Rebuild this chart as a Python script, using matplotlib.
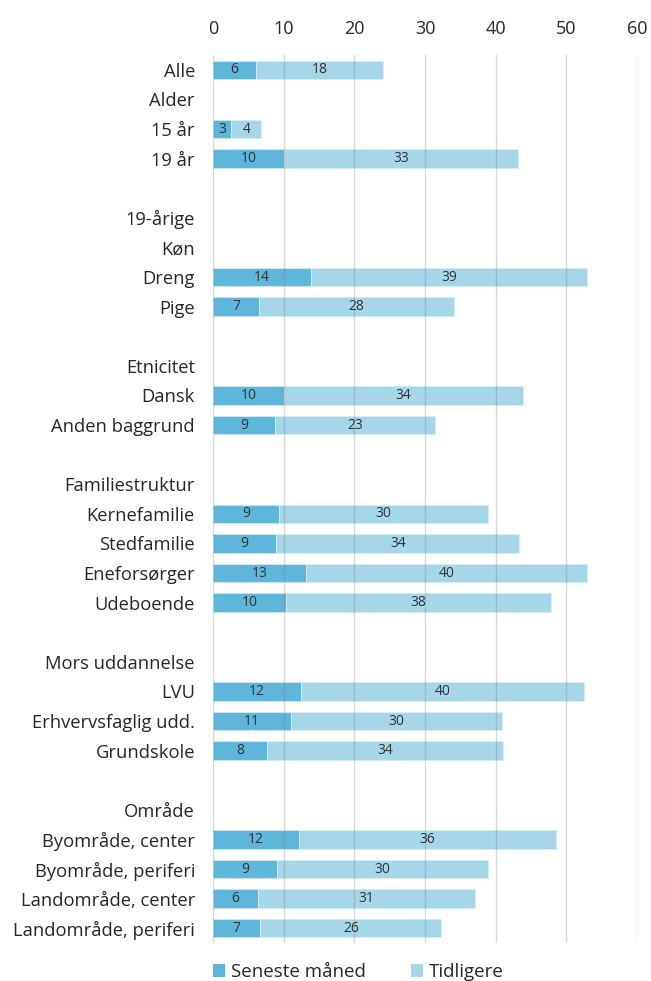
import matplotlib
matplotlib.use("Agg")
import matplotlib.pyplot as plt
from matplotlib.patches import Patch

plt.rcParams['font.family'] = ['Open Sans', 'DejaVu Sans']

categories = ["Alle", "Alder", "15 år", "19 år", "", "19-årige", "Køn", "Dreng", "Pige", "",
              "Etnicitet", "Dansk", "Anden baggrund", "", "Familiestruktur", "Kernefamilie",
              "Stedfamilie", "Eneforsørger", "Udeboende", "", "Mors uddannelse", "LVU",
              "Erhvervsfaglig udd.", "Grundskole", "", "Område", "Byområde, center",
              "Byområde, periferi", "Landområde, center", "Landområde, periferi"]
seneste = [6.1, None, 2.6, 10.1, None, None, None, 13.9, 6.55, None,
           None, 10.1, 8.8, None, None, 9.3, 8.95, 13.1, 10.3, None,
           None, 12.4, 11.0, 7.6, None, None, 12.1, 9.1, 6.3, 6.7]
tidligere = [17.9, None, 4.2, 33.0, None, None, None, 39.0, 27.5, None,
             None, 33.75, 22.6, None, None, 29.6, 34.4, 39.8, 37.6, None,
             None, 40.1, 29.9, 33.5, None, None, 36.4, 29.8, 30.8, 25.6]
series_names = ["Seneste måned", "Tidligere"]
xticks = [0, 10, 20, 30, 40, 50, 60]

c_dark = "#5EB6DA"
c_light = "#A6D7E9"
txt = "#262626"

fig = plt.figure(figsize=(6.51, 9.81), dpi=100)
ax = fig.add_axes([0.3272, 0.0387, 0.6513, 0.9052])

ypos = list(range(len(categories)))
h = 0.62
for i, (s, t) in enumerate(zip(seneste, tidligere)):
    if s is None:
        continue
    ax.barh(i, s, height=h, color=c_dark, edgecolor="#CFE9F3", linewidth=0.6, zorder=2)
    ax.barh(i, t, left=s, height=h, color=c_light, edgecolor="#D6EEF6", linewidth=0.6, zorder=2)
    ax.text(s / 2, i, f"{s:.0f}", ha="center", va="center", fontsize=10, color="#333333", zorder=4)
    ax.text(s + t / 2, i, f"{t:.0f}", ha="center", va="center", fontsize=10, color="#333333", zorder=4)

ax.set_xlim(0, 60)
ax.set_ylim(len(categories) - 0.5, -0.5)
ax.set_xticks(xticks)
ax.set_xticklabels([str(x) for x in xticks], fontsize=13, color=txt)
ax.xaxis.tick_top()
ax.set_yticks(ypos)
ax.set_yticklabels(categories, fontsize=13.2, color=txt)
ax.tick_params(axis="both", length=0)
ax.tick_params(axis="x", pad=12)
ax.tick_params(axis="y", pad=13)
for sp in ax.spines.values():
    sp.set_visible(False)
for x in xticks:
    ax.axvline(x, color="#808080", alpha=0.3, linewidth=1.0, zorder=3)

handles = [Patch(facecolor=c_dark, label=series_names[0]),
           Patch(facecolor=c_light, label=series_names[1])]
fig.legend(handles=handles, loc="center left", bbox_to_anchor=(213 / 651, 1 - 972 / 981), ncol=2,
           frameon=False, fontsize=13.5, handlelength=0.65, handleheight=0.75,
           handletextpad=0.3, columnspacing=2.4, labelcolor=txt, borderpad=0,
           borderaxespad=0)

fig.savefig("out.png", dpi=100)
